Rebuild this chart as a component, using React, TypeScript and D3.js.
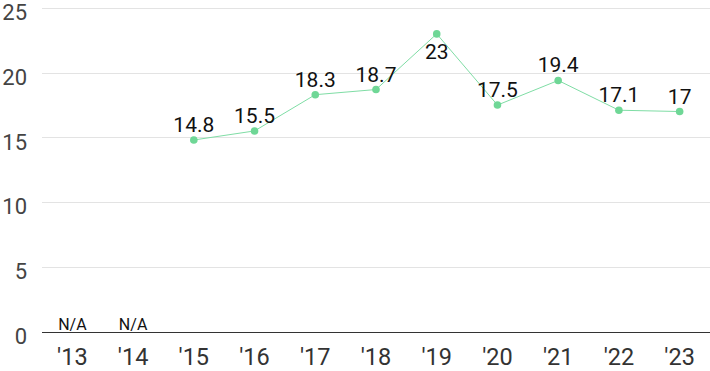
import React from "react";
import * as d3 from "d3";

const years = ["'13", "'14", "'15", "'16", "'17", "'18", "'19", "'20", "'21", "'22", "'23"];
const values: (number | null)[] = [null, null, 14.8, 15.5, 18.3, 18.7, 23, 17.5, 19.4, 17.1, 17];
const yTicks = [0, 5, 10, 15, 20, 25];

const width = 710;
const height = 371;
const margin = { top: 8, right: 0, bottom: 40, left: 42 };

export default function App() {
  const x = d3
    .scaleBand<string>()
    .domain(years)
    .range([margin.left, width - margin.right])
    .padding(0);
  const y = d3
    .scaleLinear()
    .domain([0, 25])
    .range([height - margin.bottom + 0.5, margin.top]);

  const cx = (d: string) => (x(d) ?? 0) + x.bandwidth() / 2;

  const points = years
    .map((yr, i) => ({ yr, v: values[i] }))
    .filter((d) => d.v !== null) as { yr: string; v: number }[];

  const line = d3
    .line<{ yr: string; v: number }>()
    .x((d) => cx(d.yr))
    .y((d) => y(d.v));

  const maxV = d3.max(points, (d) => d.v) ?? 0;

  return (
    <svg
      width={width}
      height={height}
      style={{ position: "absolute", left: 0, top: 0, fontFamily: "Roboto, sans-serif" }}
    >
      {/* grid + y labels */}
      {yTicks.map((t) => (
        <g key={t}>
          {t > 0 && (
            <line
              x1={margin.left}
              x2={width}
              y1={Math.round(y(t)) + 0.5}
              y2={Math.round(y(t)) + 0.5}
              stroke="#e3e3e3"
              strokeWidth={1}
            />
          )}
          <text
            x={27}
            y={y(t)}
            dy="0.55em"
            textAnchor="end"
            fontSize={22}
            fill="#444"
          >
            {t}
          </text>
        </g>
      ))}
      <line
        x1={margin.left}
        x2={width}
        y1={Math.round(y(0)) + 0.5}
        y2={Math.round(y(0)) + 0.5}
        stroke="#333"
        strokeWidth={1.2}
      />

      {/* x labels */}
      {years.map((yr) => (
        <text key={yr} x={cx(yr)} y={height - 6} textAnchor="middle" fontSize={23.5} fill="#333">
          {yr}
        </text>
      ))}

      {/* N/A markers */}
      {years.map((yr, i) =>
        values[i] === null ? (
          <text key={"na" + yr} x={cx(yr)} y={y(0) - 2} textAnchor="middle" fontSize={16} fill="#111">
            N/A
          </text>
        ) : null
      )}

      {/* line */}
      <path d={line(points) ?? ""} fill="none" stroke="#7fdda5" strokeWidth={1} />
      {points.map((d) => (
        <circle key={d.yr} cx={cx(d.yr)} cy={y(d.v)} r={3.8} fill="#6fd796" />
      ))}
      {points.map((d) => (
        <text
          key={"l" + d.yr}
          x={cx(d.yr)}
          y={d.v === maxV ? y(d.v) + 25 : y(d.v) - 8}
          textAnchor="middle"
          fontSize={21}
          fill="#111"
        >
          {d.v}
        </text>
      ))}
    </svg>
  );
}
